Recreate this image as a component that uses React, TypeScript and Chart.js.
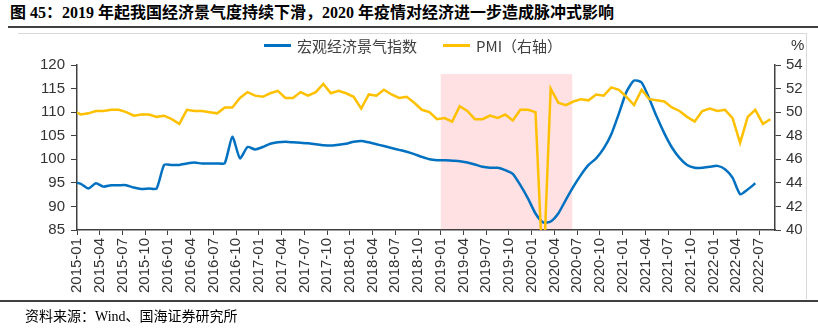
import React, { useEffect, useRef } from 'react';
import { Chart, registerables } from 'chart.js';

Chart.register(...registerables);

// ---- data ----
const firstMonth = '2014-12';
const lastMonth = '2022-08';
const axisStart = '2015-01';

// 宏观经济景气指数 (left axis), 2014-12 .. 2022-06
const macroIndex: number[] = [
  95.2,
  94.8, 93.8, 94.9, 94.2, 94.5, 94.5, 94.5, 94.0, 93.7, 93.8, 93.8, 98.8,
  98.8, 98.8, 99.1, 99.3, 99.1, 99.1, 99.1, 99.2, 104.8, 100.2, 102.6, 102.1,
  102.6, 103.3, 103.6, 103.7, 103.6, 103.5, 103.4, 103.2, 103.0, 102.9, 103.1, 103.3,
  103.7, 103.9, 103.6, 103.2, 102.8, 102.4, 102.0, 101.6, 101.1, 100.5, 100.0, 99.8,
  99.8, 99.7, 99.6, 99.3, 98.9, 98.4, 98.2, 98.2, 97.7, 96.9, 94.5, 91.7,
  88.5, 86.6, 86.8, 88.5, 91.4, 94.2, 96.7, 98.8, 100.2, 102.3, 105.3, 109.7,
  114.3, 116.7, 116.3, 112.9, 109.0, 105.5, 102.5, 100.3, 98.8, 98.2, 98.2, 98.4,
  98.6, 97.9, 96.1, 92.6, 93.6, 94.9,
];

// PMI (right axis), 2014-12 .. 2022-08
const pmi: number[] = [
  50.1,
  49.8, 49.9, 50.1, 50.1, 50.2, 50.2, 50.0, 49.7, 49.8, 49.8, 49.6, 49.7,
  49.4, 49.0, 50.2, 50.1, 50.1, 50.0, 49.9, 50.4, 50.4, 51.2, 51.7, 51.4,
  51.3, 51.6, 51.8, 51.2, 51.2, 51.7, 51.4, 51.7, 52.4, 51.6, 51.8, 51.6,
  51.3, 50.3, 51.5, 51.4, 51.9, 51.5, 51.2, 51.3, 50.8, 50.2, 50.0, 49.4,
  49.5, 49.2, 50.5, 50.1, 49.4, 49.4, 49.7, 49.5, 49.8, 49.3, 50.2, 50.2,
  50.0, 35.7, 52.0, 50.8, 50.6, 50.9, 51.1, 51.0, 51.5, 51.4, 52.1, 51.9,
  51.3, 50.6, 51.9, 51.1, 51.0, 50.9, 50.4, 50.1, 49.6, 49.2, 50.1, 50.3,
  50.1, 50.2, 49.5, 47.4, 49.6, 50.2, 49.0, 49.4,
];

const tickLabels: string[] = [
  '2015-01', '2015-04', '2015-07', '2015-10',
  '2016-01', '2016-04', '2016-07', '2016-10',
  '2017-01', '2017-04', '2017-07', '2017-10',
  '2018-01', '2018-04', '2018-07', '2018-10',
  '2019-01', '2019-04', '2019-07', '2019-10',
  '2020-01', '2020-04', '2020-07', '2020-10',
  '2021-01', '2021-04', '2021-07', '2021-10',
  '2022-01', '2022-04', '2022-07',
];

const leftTicks = { min: 85, max: 120, step: 5 };
const rightTicks = { min: 40, max: 54, step: 2 };

const shadeFrom = '2019-01';
const shadeTo = '2020-06';
const shadeTop = 118.1;

const seriesNames = ['宏观经济景气指数', 'PMI（右轴）'];
const title = '图 45：2019 年起我国经济景气度持续下滑，2020 年疫情对经济进一步造成脉冲式影响';
const source = '资料来源：Wind、国海证券研究所';

// ---- helpers ----
const monthIndex = (s: string) => {
  const [y, m] = s.split('-').map(Number);
  const [y0, m0] = axisStart.split('-').map(Number);
  return (y - y0) * 12 + (m - m0);
};
const months: string[] = (() => {
  const out: string[] = [];
  let [y, m] = firstMonth.split('-').map(Number);
  const end = monthIndex(lastMonth);
  while (true) {
    const s = `${y}-${String(m).padStart(2, '0')}`;
    out.push(s);
    if (monthIndex(s) >= end) break;
    m += 1;
    if (m > 12) { m = 1; y += 1; }
  }
  return out;
})();

const BLUE = '#0070C0';
const GOLD = '#FFC000';
const PINK = '#FFE1E4';
const AXIS = '#404040';
const TEXT = '#333333';

const shadePlugin = {
  id: 'shade',
  beforeDraw(chart: any) {
    const { ctx, scales } = chart;
    const x = scales.x;
    const y = scales.y;
    const x0 = x.getPixelForValue(monthIndex(shadeFrom));
    const x1 = x.getPixelForValue(monthIndex(shadeTo) + 0.35);
    const yT = y.getPixelForValue(shadeTop);
    const yB = y.getPixelForValue(leftTicks.min);
    ctx.save();
    ctx.fillStyle = PINK;
    ctx.fillRect(x0, yT, x1 - x0, yB - yT);
    ctx.restore();
  },
};

export default function App() {
  const ref = useRef<HTMLCanvasElement | null>(null);

  useEffect(() => {
    if (!ref.current) return;
    const tickFont = { family: '"Liberation Sans", Arial, sans-serif', size: 15 };
    const chart = new Chart(ref.current, {
      type: 'line',
      data: {
        datasets: [
          {
            label: seriesNames[1],
            data: months.map((m, i) => ({ x: monthIndex(m) + 0.5, y: pmi[i] })),
            yAxisID: 'y1',
            borderColor: GOLD,
            backgroundColor: GOLD,
            borderWidth: 2.5,
            pointRadius: 0,
            tension: 0,
            clip: 0,
            order: 0,
          },
          {
            label: seriesNames[0],
            data: months
              .slice(0, macroIndex.length)
              .map((m, i) => ({ x: monthIndex(m) + 0.5, y: macroIndex[i] })),
            yAxisID: 'y',
            borderColor: BLUE,
            backgroundColor: BLUE,
            borderWidth: 2.5,
            pointRadius: 0,
            tension: 0.2,
            clip: 0,
            order: 1,
          },
        ],
      },
      options: {
        animation: false,
        responsive: false,
        devicePixelRatio: 1,
        events: [],
        layout: { padding: { top: 65, left: 0, right: 0, bottom: 0 } },
        plugins: { legend: { display: false }, tooltip: { enabled: false } },
        scales: {
          x: {
            type: 'linear',
            min: 0,
            max: 92.1,
            afterBuildTicks: (scale: any) => {
              scale.ticks = tickLabels.map((l) => ({ value: monthIndex(l) }));
            },
            afterFit: (scale: any) => { scale.height = 98; },
            ticks: {
              autoSkip: false,
              maxRotation: 90,
              minRotation: 90,
              padding: 3,
              color: TEXT,
              font: tickFont,
              callback: (_v: any, i: number) => tickLabels[i],
            },
            grid: { display: true, drawOnChartArea: false, drawTicks: true, tickLength: 5, color: AXIS, lineWidth: 1 },
            border: { display: true, color: AXIS, width: 1.5 },
          },
          y: {
            type: 'linear',
            position: 'left',
            min: leftTicks.min,
            max: leftTicks.max,
            afterFit: (scale: any) => { scale.width = 77; },
            ticks: { stepSize: leftTicks.step, padding: 6, color: TEXT, font: tickFont },
            grid: { display: true, drawOnChartArea: false, drawTicks: true, tickLength: 6, color: AXIS, lineWidth: 1 },
            border: { display: true, color: AXIS, width: 1.5 },
          },
          y1: {
            type: 'linear',
            position: 'right',
            min: rightTicks.min,
            max: rightTicks.max,
            afterFit: (scale: any) => { scale.width = 43; },
            ticks: { stepSize: rightTicks.step, padding: 5, color: TEXT, font: tickFont },
            grid: { display: true, drawOnChartArea: false, drawTicks: true, tickLength: 6, color: AXIS, lineWidth: 1 },
            border: { display: true, color: AXIS, width: 1.5 },
          },
        },
      },
      plugins: [shadePlugin],
    } as any);
    return () => chart.destroy();
  }, []);

  const legendText: React.CSSProperties = {
    fontFamily: '"Noto Sans CJK SC", sans-serif',
    fontSize: 15,
    color: '#404040',
    whiteSpace: 'nowrap',
  };

  return (
    <div style={{ position: 'absolute', left: 0, top: 0, width: 818, height: 328, background: '#fff', overflow: 'hidden' }}>
      <div
        style={{
          position: 'absolute', left: 10, top: 2,
          fontFamily: '"Liberation Serif", "Noto Sans CJK SC", serif',
          fontWeight: 700, fontSize: 16, color: '#000', whiteSpace: 'nowrap', lineHeight: '22px',
        }}
      >
        {title}
      </div>
      <div style={{ position: 'absolute', left: 8, top: 26, width: 810, height: 2, background: '#404040' }} />
      <div style={{ position: 'absolute', left: 18, top: 33, width: 788, height: 1, background: '#D9D9D9' }} />
      <div style={{ position: 'absolute', left: 806, top: 33, width: 1, height: 266, background: '#D9D9D9' }} />
      <canvas ref={ref} width={818} height={328} style={{ position: 'absolute', left: 0, top: 0, width: 818, height: 328 }} />
      <div style={{ position: 'absolute', left: 264, top: 35, height: 20, display: 'flex', alignItems: 'center' }}>
        <span style={{ display: 'inline-block', width: 27, height: 3, background: BLUE, marginRight: 6 }} />
        <span style={legendText}>{seriesNames[0]}</span>
        <span style={{ display: 'inline-block', width: 27, height: 3, background: GOLD, marginLeft: 26, marginRight: 6 }} />
        <span style={legendText}>{seriesNames[1]}</span>
      </div>
      <div style={{ position: 'absolute', left: 791, top: 35, fontFamily: '"Liberation Sans", Arial, sans-serif', fontSize: 15, color: TEXT, lineHeight: '20px' }}>%</div>
      <div style={{ position: 'absolute', left: 0, top: 300, width: 818, height: 2, background: '#404040' }} />
      <div
        style={{
          position: 'absolute', left: 25, top: 307,
          fontFamily: '"Liberation Serif", "Noto Sans CJK SC", serif',
          fontSize: 14, color: '#000', whiteSpace: 'nowrap', lineHeight: '20px',
        }}
      >
        {source}
      </div>
    </div>
  );
}
